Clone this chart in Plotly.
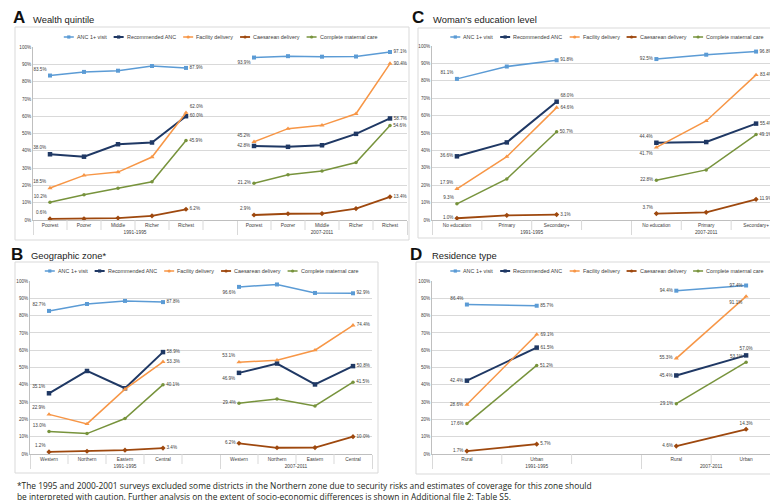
import plotly.graph_objects as go

# ---------------- data ----------------
periods = ["1991-1995", "2007-2011"]
series_names = ["ANC 1+ visit", "Recommended ANC", "Facility delivery",
                "Caesarean delivery", "Complete maternal care"]

# A: Wealth quintile
wealth_cats = ["Poorest", "Poorer", "Middle", "Richer", "Richest"]
wealth_anc_p1 = [83.5, 85.6, 86.3, 89.0, 87.9]
wealth_anc_p2 = [93.9, 94.7, 94.4, 94.5, 97.1]
wealth_rec_p1 = [38.0, 36.6, 43.8, 44.8, 60.0]
wealth_rec_p2 = [42.8, 42.3, 43.2, 49.8, 58.7]
wealth_fac_p1 = [18.5, 25.8, 27.7, 36.4, 62.0]
wealth_fac_p2 = [45.2, 52.8, 54.7, 61.4, 90.4]
wealth_ces_p1 = [0.6, 0.7, 1.1, 2.4, 6.2]
wealth_ces_p2 = [2.9, 3.6, 3.7, 6.6, 13.4]
wealth_com_p1 = [10.2, 14.6, 18.3, 22.1, 45.9]
wealth_com_p2 = [21.2, 26.2, 28.3, 33.2, 54.6]

# B: Geographic zone
zone_cats = ["Western", "Northern", "Eastern", "Central"]
zone_anc_p1 = [82.7, 86.7, 88.5, 87.8]
zone_anc_p2 = [96.6, 98.0, 93.1, 92.9]
zone_rec_p1 = [35.1, 48.0, 38.0, 58.9]
zone_rec_p2 = [46.9, 52.3, 40.2, 50.8]
zone_fac_p1 = [22.9, 17.4, 37.5, 53.3]
zone_fac_p2 = [53.1, 54.2, 60.0, 74.4]
zone_ces_p1 = [1.2, 1.6, 2.2, 3.4]
zone_ces_p2 = [6.2, 3.6, 3.7, 10.0]
zone_com_p1 = [13.0, 11.8, 20.5, 40.1]
zone_com_p2 = [29.4, 31.8, 27.8, 41.5]

# C: Woman's education level
edu_cats = ["No education", "Primary", "Secondary+"]
edu_anc_p1 = [81.1, 88.2, 91.8]
edu_anc_p2 = [92.5, 95.0, 96.8]
edu_rec_p1 = [36.6, 44.6, 68.0]
edu_rec_p2 = [44.4, 44.8, 55.4]
edu_fac_p1 = [17.9, 36.4, 64.6]
edu_fac_p2 = [41.7, 56.9, 83.4]
edu_ces_p1 = [1.0, 2.7, 3.1]
edu_ces_p2 = [3.7, 4.4, 11.9]
edu_com_p1 = [9.3, 23.6, 50.7]
edu_com_p2 = [22.8, 28.8, 49.1]

# D: Residence type
res_cats = ["Rural", "Urban"]
res_anc_p1 = [86.4, 85.7]
res_anc_p2 = [94.4, 97.4]
res_rec_p1 = [42.4, 61.5]
res_rec_p2 = [45.4, 57.0]
res_fac_p1 = [28.6, 69.1]
res_fac_p2 = [55.3, 91.1]
res_ces_p1 = [1.7, 5.7]
res_ces_p2 = [4.6, 14.3]
res_com_p1 = [17.6, 51.2]
res_com_p2 = [29.1, 53.1]

y_ticks = list(range(0, 101, 10))
y_ticklabels = [f"{v}%" for v in y_ticks]

footnote_lines = [
    "*The 1995 and 2000-2001 surveys excluded some districts in the Northern zone due to security risks and estimates of coverage for this zone should",
    "be interpreted with caution. Further analysis on the extent of socio-economic differences is shown in Additional file 2: Table S5.",
]

# ---------------- styles ----------------
W, H = 778, 500
FONT = "Liberation Sans, Arial, sans-serif"
colors = ["#5B9BD5", "#1F3864", "#F79646", "#9E480E", "#77933C"]
symbols = ["square", "square", "triangle-up", "diamond", "circle"]
msizes = [4, 4.5, 4.5, 4, 3.5]
lwidths = [1.5, 2, 1.5, 1.8, 1.5]
GRID = "#D9D9D9"
AXL = "#BFBFBF"
TXT = "#404040"

panels = [
    dict(letter="A", title="Wealth quintile", cats=wealth_cats,
         data=[(wealth_anc_p1, wealth_anc_p2), (wealth_rec_p1, wealth_rec_p2),
               (wealth_fac_p1, wealth_fac_p2), (wealth_ces_p1, wealth_ces_p2),
               (wealth_com_p1, wealth_com_p2)],
         plot=(25, 399, 39, 212), box=(7, 401, 19, 232), legend_y=29,
         letter_pos=(3, 9), title_pos=(23, 11)),
    dict(letter="B", title="Geographic zone*", cats=zone_cats,
         data=[(zone_anc_p1, zone_anc_p2), (zone_rec_p1, zone_rec_p2),
               (zone_fac_p1, zone_fac_p2), (zone_ces_p1, zone_ces_p2),
               (zone_com_p1, zone_com_p2)],
         plot=(22, 364, 273, 446), box=(7, 370, 254, 465), legend_y=263,
         letter_pos=(1, 246), title_pos=(21, 247)),
    dict(letter="C", title="Woman's education level", cats=edu_cats,
         data=[(edu_anc_p1, edu_anc_p2), (edu_rec_p1, edu_rec_p2),
               (edu_fac_p1, edu_fac_p2), (edu_ces_p1, edu_ces_p2),
               (edu_com_p1, edu_com_p2)],
         plot=(424, 773, 38, 212), box=(410, 777, 20, 230), legend_y=29,
         letter_pos=(402, 9), title_pos=(423, 11)),
    dict(letter="D", title="Residence type", cats=res_cats,
         data=[(res_anc_p1, res_anc_p2), (res_rec_p1, res_rec_p2),
               (res_fac_p1, res_fac_p2), (res_ces_p1, res_ces_p2),
               (res_com_p1, res_com_p2)],
         plot=(424, 773, 273, 446), box=(408, 777, 254, 466), legend_y=263,
         letter_pos=(400, 246), title_pos=(422, 247)),
]

# label position overrides: (panel, series, period, 'first'/'last') -> textposition
label_pos = {
    ("A", 0, 0, "first"): "top left", ("A", 1, 0, "first"): "top left",
    ("A", 2, 0, "first"): "top left", ("A", 3, 0, "first"): "top left",
    ("A", 4, 0, "first"): "top left", ("A", 2, 0, "last"): "top right",
    ("A", 0, 1, "first"): "bottom left", ("A", 2, 1, "first"): "top left",
    ("A", 3, 1, "first"): "top left",
    ("B", 0, 0, "first"): "top left", ("B", 1, 0, "first"): "top left",
    ("B", 2, 0, "first"): "top left", ("B", 3, 0, "first"): "top left",
    ("B", 4, 0, "first"): "top left",
    ("B", 0, 1, "first"): "bottom left", ("B", 2, 1, "first"): "top left",
    ("B", 1, 1, "first"): "bottom left",
    ("C", 0, 0, "first"): "top left", ("C", 2, 0, "first"): "top left",
    ("C", 4, 0, "first"): "top left", ("C", 1, 0, "last"): "top right",
    ("C", 1, 1, "first"): "top left", ("C", 2, 1, "first"): "bottom left",
    ("C", 3, 1, "first"): "top left",
    ("D", 0, 0, "first"): "top left",
    ("D", 0, 1, "last"): "middle left", ("D", 2, 1, "last"): "bottom left",
    ("D", 1, 1, "last"): "top center", ("D", 4, 1, "last"): "top left",
    ("D", 3, 1, "last"): "top center",
}

AW = {' ': .278, '+': .584, '%': .889, '.': .278, '-': .333, '*': .389, "'": .191,
      'A': .667, 'C': .722, 'N': .722, 'R': .722, 'F': .611,
      'a': .556, 'b': .556, 'c': .5, 'd': .556, 'e': .556, 'f': .278, 'g': .556,
      'h': .556, 'i': .222, 'l': .222, 'm': .833, 'n': .556, 'o': .556, 'p': .556,
      'r': .333, 's': .5, 't': .278, 'u': .556, 'v': .5, 'y': .5}


def tw(s, size):
    return sum(AW.get(c, .556) for c in s) * size


def px(x):
    return x / W


def py(y):
    return 1 - y / H


fig = go.Figure()
layout = dict(width=W, height=H, margin=dict(l=0, r=0, t=0, b=0),
              paper_bgcolor="white", plot_bgcolor="white", template="none",
              showlegend=False, font=dict(family=FONT, color=TXT))
shapes = []
annotations = []

for pi, p in enumerate(panels):
    sfx = "" if pi == 0 else str(pi + 1)
    xa, ya = "x" + sfx, "y" + sfx
    cats = p["cats"]
    n = len(cats)
    nslots = 2 * n + 1
    outer = [periods[0]] * (n + 1) + [periods[1]] * n
    inner = cats + [" "] + cats
    for si, (g1, g2) in enumerate(p["data"]):
        yv = list(g1) + [None] + list(g2)
        txt = [""] * len(yv)
        tpos = ["middle center"] * len(yv)
        for gi, (g, off) in enumerate(((g1, 0), (g2, n + 1))):
            for which, idx in (("first", 0), ("last", n - 1)):
                txt[off + idx] = f"{g[idx]:.1f}%"
                default = "middle left" if which == "first" else "middle right"
                tpos[off + idx] = label_pos.get((p["letter"], si, gi, which), default)
        fig.add_trace(go.Scatter(
            x=[outer, inner], y=yv, mode="lines+markers+text",
            name=series_names[si], xaxis=xa, yaxis=ya,
            line=dict(color=colors[si], width=lwidths[si]),
            marker=dict(symbol=symbols[si], size=msizes[si], color=colors[si]),
            text=txt, textposition=tpos,
            textfont=dict(size=4.6, color=TXT, family=FONT),
            cliponaxis=False, connectgaps=False, hoverinfo="skip"))

    x0, x1, y0, y1 = p["plot"]
    layout["xaxis" + sfx] = dict(
        type="multicategory", domain=[px(x0), px(x1)], anchor=ya,
        range=[-0.5, nslots - 0.5], autorange=False,
        showgrid=False, zeroline=False, showline=True, linecolor=AXL, linewidth=1,
        ticks="", tickfont=dict(size=4.8, color=TXT, family=FONT),
        showdividers=True, dividercolor=GRID, dividerwidth=1, fixedrange=True)
    layout["yaxis" + sfx] = dict(
        domain=[py(y1), py(y0)], anchor=xa, range=[0, 100], autorange=False,
        tickmode="array", tickvals=y_ticks, ticktext=y_ticklabels,
        showgrid=True, gridcolor=GRID, gridwidth=1,
        zeroline=False, showline=True, linecolor=AXL, linewidth=1, ticks="",
        tickfont=dict(size=4.6, color=TXT, family=FONT), fixedrange=True)

    # category separators below the axis
    ph = y1 - y0
    for k in range(1, nslots):
        if k == n + 1:
            continue
        shapes.append(dict(type="line", xref=xa + " domain", yref=ya + " domain",
                           x0=k / nslots, x1=k / nslots, y0=0, y1=-10 / ph,
                           line=dict(color=GRID, width=1)))

    # chart box
    bx0, bx1, by0, by1 = p["box"]
    shapes.append(dict(type="rect", xref="paper", yref="paper",
                       x0=px(bx0), x1=px(bx1), y0=py(by1), y1=py(by0),
                       line=dict(color=GRID, width=1), layer="below"))

    # panel letter + title
    lx, ly = p["letter_pos"]
    annotations.append(dict(text="<b>" + p["letter"] + "</b>", x=px(lx), y=py(ly),
                            xref="paper", yref="paper", xanchor="left", yanchor="middle",
                            showarrow=False, font=dict(size=17, color="#111111", family=FONT)))
    tx, ty = p["title_pos"]
    annotations.append(dict(text=p["title"], x=px(tx), y=py(ty),
                            xref="paper", yref="paper", xanchor="left", yanchor="middle",
                            showarrow=False, font=dict(size=9.4, color="#222222", family=FONT)))

    # manual legend, centred over the plot area
    lsize = 5.4
    item_w = [10 + 2 + tw(s, lsize) for s in series_names]
    total = sum(item_w) + 8 * (len(series_names) - 1)
    cx = (x0 + x1) / 2 - total / 2
    ly_ = p["legend_y"]
    for si, s in enumerate(series_names):
        shapes.append(dict(type="line", xref="paper", yref="paper",
                           x0=px(cx), x1=px(cx + 10), y0=py(ly_), y1=py(ly_),
                           line=dict(color=colors[si], width=lwidths[si])))
        m = 1.6
        shapes.append(dict(type="rect" if symbols[si] == "square" else "circle",
                           xref="paper", yref="paper",
                           x0=px(cx + 5 - m), x1=px(cx + 5 + m),
                           y0=py(ly_ + m), y1=py(ly_ - m),
                           fillcolor=colors[si], line=dict(width=0)))
        annotations.append(dict(text=s, x=px(cx + 11), y=py(ly_), xref="paper", yref="paper",
                                xanchor="left", yanchor="middle", showarrow=False,
                                font=dict(size=lsize, color=TXT, family=FONT)))
        cx += item_w[si] + 8

annotations.append(dict(text="<br>".join(footnote_lines), x=px(7), y=py(483),
                        xref="paper", yref="paper", xanchor="left", yanchor="middle",
                        align="left", showarrow=False,
                        font=dict(size=8.4, color="#231F20", family="Open Sans, sans-serif")))

layout["shapes"] = shapes
layout["annotations"] = annotations
fig.update_layout(**layout)
fig.write_html("out.html")
